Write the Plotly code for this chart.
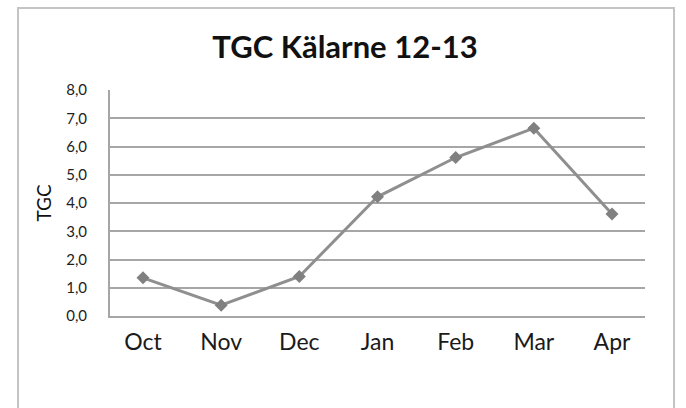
import plotly.graph_objects as go

months = ["Oct", "Nov", "Dec", "Jan", "Feb", "Mar", "Apr"]
tgc = [1.35, 0.38, 1.40, 4.22, 5.61, 6.65, 3.61]
title_text = "TGC Kälarne 12-13"
y_title = "TGC"

W, H = 686, 408
L, R, T, B = 110, 41, 90, 92
pw, ph = W - L - R, H - T - B

def px_x(x):
    return (x - L) / pw

def px_y(y):
    return (H - B - y) / ph

fig = go.Figure()
fig.add_trace(go.Scatter(
    x=months, y=tgc, mode="lines+markers",
    line=dict(color="#8f8f8f", width=3),
    marker=dict(symbol="diamond", size=10, color="#808080"),
    showlegend=False,
))

fig.update_layout(
    width=W, height=H,
    margin=dict(l=L, r=R, t=T, b=B),
    paper_bgcolor="white", plot_bgcolor="white",
    separators=",.",
    font=dict(family="Lato, Carlito, sans-serif", color="#1a1a1a"),
    title=dict(text=title_text, x=345 / W, xanchor="center",
               y=1 - 47 / H, yanchor="middle", yref="container",
               font=dict(size=31, family="Lato, sans-serif", color="#111111", weight="bold")),
    shapes=[dict(type="rect", xref="paper", yref="paper",
                 x0=px_x(18), x1=px_x(674), y0=px_y(430), y1=px_y(8),
                 line=dict(color="#c4c4c4", width=2), layer="below")],
)

fig.update_xaxes(
    type="category", showgrid=False, showline=True, linecolor="#a6a6a6", linewidth=2,
    ticks="", tickfont=dict(size=23, color="#1a1a1a"), ticklabelstandoff=4,
)
fig.update_yaxes(
    range=[0, 8], dtick=1, tickformat=".1f", showgrid=True, gridcolor="#a6a6a6", gridwidth=2,
    showline=True, linecolor="#a6a6a6", linewidth=2, zeroline=False,
    ticks="", tickfont=dict(size=15, color="#222222"), ticklabelstandoff=18,
    title=dict(text=y_title, font=dict(size=19, color="#111111"), standoff=10),
)

fig.write_html(
    "out.html",
    config={"displayModeBar": False},
    post_script="document.body.style.margin='0';document.body.style.overflow='hidden';",
)
